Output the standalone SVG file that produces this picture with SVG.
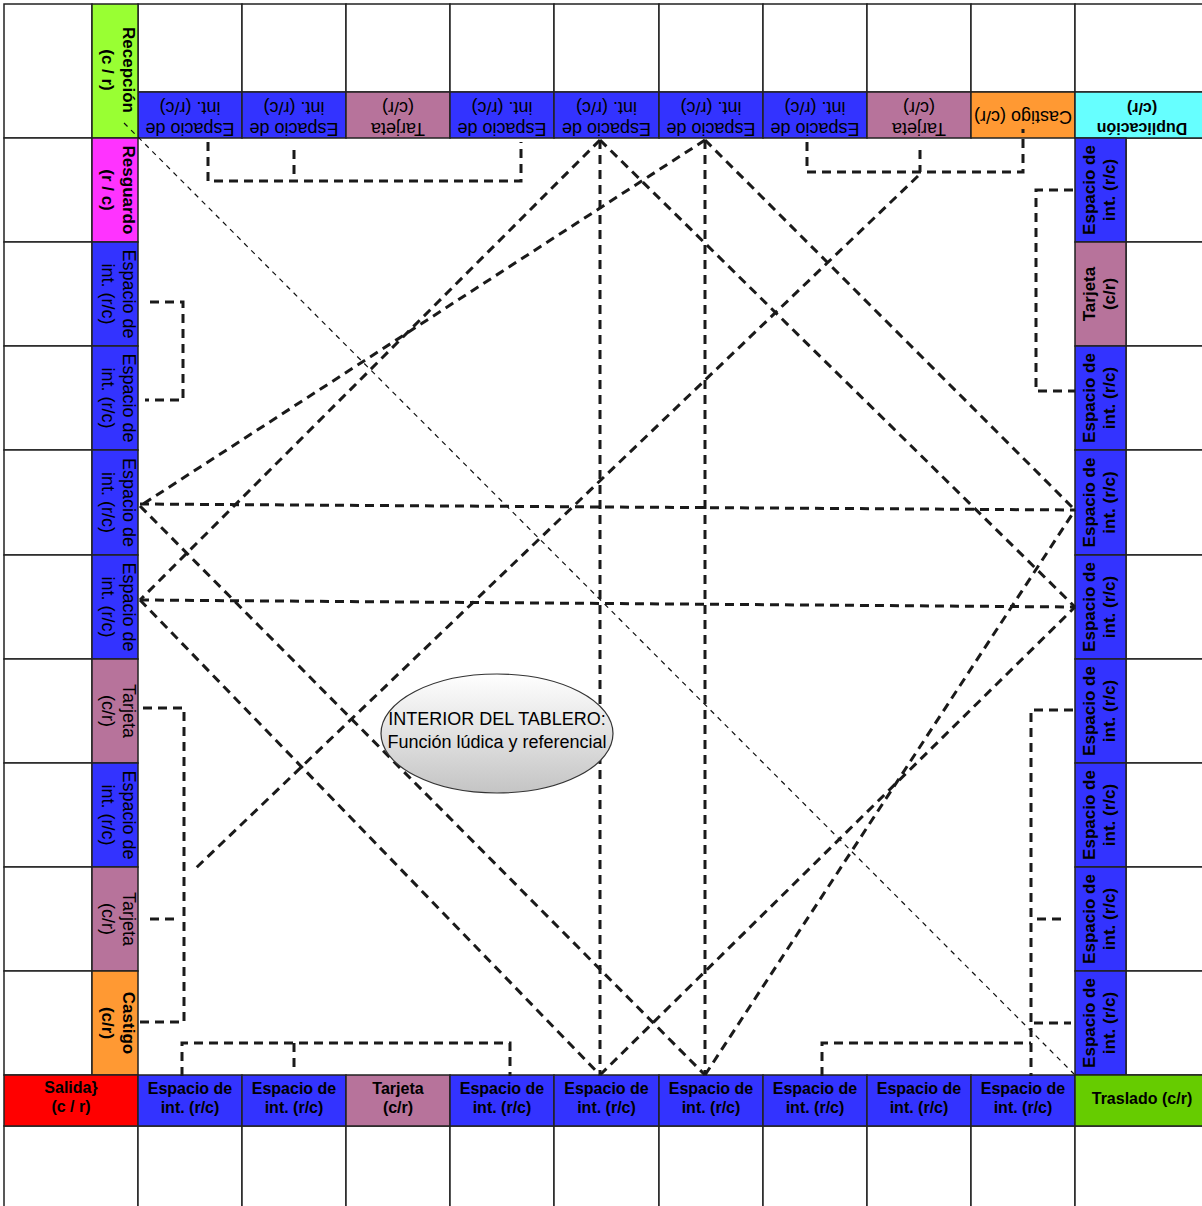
<svg xmlns="http://www.w3.org/2000/svg" width="1202" height="1206" viewBox="0 0 1202 1206">
<defs>
<linearGradient id="eg" x1="0" y1="0" x2="0" y2="1">
<stop offset="0" stop-color="#ffffff"/>
<stop offset="1" stop-color="#c4c4c4"/>
</linearGradient>
<style>
.c{stroke:#222;stroke-width:1.5}
.w{fill:#fff}
.bl{fill:#3333ff}
.tj{fill:#b7739b}
.or{fill:#ff9933}
.cy{fill:#66ffff}
.rc{fill:#99ff33}
.mg{fill:#ff33ff}
.rd{fill:#ff0000}
.gr{fill:#66cc00}
text{font-family:"Liberation Sans",Arial,Helvetica,sans-serif;fill:#000;text-anchor:middle}
.r18{font-size:18px}
.b17{font-size:17px;font-weight:bold}
.b16{font-size:16px;font-weight:bold}
.d{fill:none;stroke:#1a1a1a;stroke-width:3;stroke-dasharray:9 6}
.th{fill:none;stroke:#111;stroke-width:1.2;stroke-dasharray:5 5}
</style>
</defs>
<rect width="1202" height="1206" fill="#fff"/>

<g id="grid-white">
<rect class="c w" x="4" y="4" width="88" height="134"/>
<rect class="c w" x="138" y="4" width="104" height="88"/>
<rect class="c w" x="242" y="4" width="104" height="88"/>
<rect class="c w" x="346" y="4" width="104" height="88"/>
<rect class="c w" x="450" y="4" width="104" height="88"/>
<rect class="c w" x="554" y="4" width="105" height="88"/>
<rect class="c w" x="659" y="4" width="104" height="88"/>
<rect class="c w" x="763" y="4" width="104" height="88"/>
<rect class="c w" x="867" y="4" width="104" height="88"/>
<rect class="c w" x="971" y="4" width="104" height="88"/>
<rect class="c w" x="1075" y="4" width="140" height="88"/>
<rect class="c w" x="4" y="138" width="88" height="104"/>
<rect class="c w" x="4" y="242" width="88" height="104"/>
<rect class="c w" x="4" y="346" width="88" height="104"/>
<rect class="c w" x="4" y="450" width="88" height="105"/>
<rect class="c w" x="4" y="555" width="88" height="104"/>
<rect class="c w" x="4" y="659" width="88" height="104"/>
<rect class="c w" x="4" y="763" width="88" height="104"/>
<rect class="c w" x="4" y="867" width="88" height="104"/>
<rect class="c w" x="4" y="971" width="88" height="104"/>
<rect class="c w" x="1126" y="138" width="90" height="104"/>
<rect class="c w" x="1126" y="242" width="90" height="104"/>
<rect class="c w" x="1126" y="346" width="90" height="104"/>
<rect class="c w" x="1126" y="450" width="90" height="105"/>
<rect class="c w" x="1126" y="555" width="90" height="104"/>
<rect class="c w" x="1126" y="659" width="90" height="104"/>
<rect class="c w" x="1126" y="763" width="90" height="104"/>
<rect class="c w" x="1126" y="867" width="90" height="104"/>
<rect class="c w" x="1126" y="971" width="90" height="104"/>
<rect class="c w" x="4" y="1126" width="134" height="90"/>
<rect class="c w" x="138" y="1126" width="104" height="90"/>
<rect class="c w" x="242" y="1126" width="104" height="90"/>
<rect class="c w" x="346" y="1126" width="104" height="90"/>
<rect class="c w" x="450" y="1126" width="104" height="90"/>
<rect class="c w" x="554" y="1126" width="105" height="90"/>
<rect class="c w" x="659" y="1126" width="104" height="90"/>
<rect class="c w" x="763" y="1126" width="104" height="90"/>
<rect class="c w" x="867" y="1126" width="104" height="90"/>
<rect class="c w" x="971" y="1126" width="104" height="90"/>
<rect class="c w" x="1075" y="1126" width="140" height="90"/>
</g>

<!-- Top row (upside down) -->
<g id="top-1"><rect class="c bl" x="138" y="92" width="104" height="46"/><text class="r18" transform="rotate(180 190 115)"><tspan x="190" y="107">Espacio de</tspan><tspan x="190" y="128">int. (r/c)</tspan></text></g>
<g id="top-2"><rect class="c bl" x="242" y="92" width="104" height="46"/><text class="r18" transform="rotate(180 294 115)"><tspan x="294" y="107">Espacio de</tspan><tspan x="294" y="128">int. (r/c)</tspan></text></g>
<g id="top-3"><rect class="c tj" x="346" y="92" width="104" height="46"/><text class="r18" transform="rotate(180 398 115)"><tspan x="398" y="107">Tarjeta</tspan><tspan x="398" y="128">(c/r)</tspan></text></g>
<g id="top-4"><rect class="c bl" x="450" y="92" width="104" height="46"/><text class="r18" transform="rotate(180 502 115)"><tspan x="502" y="107">Espacio de</tspan><tspan x="502" y="128">int. (r/c)</tspan></text></g>
<g id="top-5"><rect class="c bl" x="554" y="92" width="105" height="46"/><text class="r18" transform="rotate(180 606.5 115)"><tspan x="606.5" y="107">Espacio de</tspan><tspan x="606.5" y="128">int. (r/c)</tspan></text></g>
<g id="top-6"><rect class="c bl" x="659" y="92" width="104" height="46"/><text class="r18" transform="rotate(180 711 115)"><tspan x="711" y="107">Espacio de</tspan><tspan x="711" y="128">int. (r/c)</tspan></text></g>
<g id="top-7"><rect class="c bl" x="763" y="92" width="104" height="46"/><text class="r18" transform="rotate(180 815 115)"><tspan x="815" y="107">Espacio de</tspan><tspan x="815" y="128">int. (r/c)</tspan></text></g>
<g id="top-8"><rect class="c tj" x="867" y="92" width="104" height="46"/><text class="r18" transform="rotate(180 919 115)"><tspan x="919" y="107">Tarjeta</tspan><tspan x="919" y="128">(c/r)</tspan></text></g>
<g id="top-9"><rect class="c or" x="971" y="92" width="104" height="46"/><text class="r18" transform="rotate(180 1023 115)"><tspan x="1023" y="119">Castigo (c/r)</tspan></text></g>
<g id="duplicacion"><rect class="c cy" x="1075" y="92" width="140" height="46"/><text class="b16" transform="rotate(180 1142 115)"><tspan x="1142" y="107">Duplicación</tspan><tspan x="1142" y="127">(c/r)</tspan></text></g>

<!-- Left column (rotated 90) -->
<g id="recepcion"><rect class="c rc" x="92" y="4" width="46" height="134"/><text class="b17" transform="rotate(90 115 70)"><tspan x="115" y="62">Recepción</tspan><tspan x="115" y="83">(c / r)</tspan></text></g>
<g id="resguardo"><rect class="c mg" x="92" y="138" width="46" height="104"/><text class="b17" transform="rotate(90 115 190)"><tspan x="115" y="182">Resguardo</tspan><tspan x="115" y="203">(r / c)</tspan></text></g>
<g id="left-3"><rect class="c bl" x="92" y="242" width="46" height="104"/><text class="r18" transform="rotate(90 115 294)"><tspan x="115" y="286">Espacio de</tspan><tspan x="115" y="307">int. (r/c)</tspan></text></g>
<g id="left-4"><rect class="c bl" x="92" y="346" width="46" height="104"/><text class="r18" transform="rotate(90 115 398)"><tspan x="115" y="390">Espacio de</tspan><tspan x="115" y="411">int. (r/c)</tspan></text></g>
<g id="left-5"><rect class="c bl" x="92" y="450" width="46" height="105"/><text class="r18" transform="rotate(90 115 502.5)"><tspan x="115" y="494.5">Espacio de</tspan><tspan x="115" y="515.5">int. (r/c)</tspan></text></g>
<g id="left-6"><rect class="c bl" x="92" y="555" width="46" height="104"/><text class="r18" transform="rotate(90 115 607)"><tspan x="115" y="599">Espacio de</tspan><tspan x="115" y="620">int. (r/c)</tspan></text></g>
<g id="left-7"><rect class="c tj" x="92" y="659" width="46" height="104"/><text class="r18" transform="rotate(90 115 711)"><tspan x="115" y="703">Tarjeta</tspan><tspan x="115" y="724">(c/r)</tspan></text></g>
<g id="left-8"><rect class="c bl" x="92" y="763" width="46" height="104"/><text class="r18" transform="rotate(90 115 815)"><tspan x="115" y="807">Espacio de</tspan><tspan x="115" y="828">int. (r/c)</tspan></text></g>
<g id="left-9"><rect class="c tj" x="92" y="867" width="46" height="104"/><text class="r18" transform="rotate(90 115 919)"><tspan x="115" y="911">Tarjeta</tspan><tspan x="115" y="932">(c/r)</tspan></text></g>
<g id="left-10"><rect class="c or" x="92" y="971" width="46" height="104"/><text class="b17" transform="rotate(90 115 1023)"><tspan x="115" y="1015">Castigo</tspan><tspan x="115" y="1036">(c/r)</tspan></text></g>

<!-- Right column (rotated -90) -->
<g id="right-1"><rect class="c bl" x="1075" y="138" width="51" height="104"/><text class="b17" transform="rotate(-90 1100.5 190)"><tspan x="1100.5" y="184">Espacio de</tspan><tspan x="1100.5" y="204">int. (r/c)</tspan></text></g>
<g id="right-2"><rect class="c tj" x="1075" y="242" width="51" height="104"/><text class="b17" transform="rotate(-90 1100.5 294)"><tspan x="1100.5" y="288">Tarjeta</tspan><tspan x="1100.5" y="308">(c/r)</tspan></text></g>
<g id="right-3"><rect class="c bl" x="1075" y="346" width="51" height="104"/><text class="b17" transform="rotate(-90 1100.5 398)"><tspan x="1100.5" y="392">Espacio de</tspan><tspan x="1100.5" y="412">int. (r/c)</tspan></text></g>
<g id="right-4"><rect class="c bl" x="1075" y="450" width="51" height="105"/><text class="b17" transform="rotate(-90 1100.5 502.5)"><tspan x="1100.5" y="496.5">Espacio de</tspan><tspan x="1100.5" y="516.5">int. (r/c)</tspan></text></g>
<g id="right-5"><rect class="c bl" x="1075" y="555" width="51" height="104"/><text class="b17" transform="rotate(-90 1100.5 607)"><tspan x="1100.5" y="601">Espacio de</tspan><tspan x="1100.5" y="621">int. (r/c)</tspan></text></g>
<g id="right-6"><rect class="c bl" x="1075" y="659" width="51" height="104"/><text class="b17" transform="rotate(-90 1100.5 711)"><tspan x="1100.5" y="705">Espacio de</tspan><tspan x="1100.5" y="725">int. (r/c)</tspan></text></g>
<g id="right-7"><rect class="c bl" x="1075" y="763" width="51" height="104"/><text class="b17" transform="rotate(-90 1100.5 815)"><tspan x="1100.5" y="809">Espacio de</tspan><tspan x="1100.5" y="829">int. (r/c)</tspan></text></g>
<g id="right-8"><rect class="c bl" x="1075" y="867" width="51" height="104"/><text class="b17" transform="rotate(-90 1100.5 919)"><tspan x="1100.5" y="913">Espacio de</tspan><tspan x="1100.5" y="933">int. (r/c)</tspan></text></g>
<g id="right-9"><rect class="c bl" x="1075" y="971" width="51" height="104"/><text class="b17" transform="rotate(-90 1100.5 1023)"><tspan x="1100.5" y="1017">Espacio de</tspan><tspan x="1100.5" y="1037">int. (r/c)</tspan></text></g>

<!-- Bottom row -->
<g id="salida"><rect class="c rd" x="4" y="1075" width="134" height="51"/><text class="b16"><tspan x="71" y="1093">Salida}</tspan><tspan x="71" y="1112">(c / r)</tspan></text></g>
<g id="bot-1"><rect class="c bl" x="138" y="1075" width="104" height="51"/><text class="b16"><tspan x="190" y="1094">Espacio de</tspan><tspan x="190" y="1113">int. (r/c)</tspan></text></g>
<g id="bot-2"><rect class="c bl" x="242" y="1075" width="104" height="51"/><text class="b16"><tspan x="294" y="1094">Espacio de</tspan><tspan x="294" y="1113">int. (r/c)</tspan></text></g>
<g id="bot-3"><rect class="c tj" x="346" y="1075" width="104" height="51"/><text class="b16"><tspan x="398" y="1094">Tarjeta</tspan><tspan x="398" y="1113">(c/r)</tspan></text></g>
<g id="bot-4"><rect class="c bl" x="450" y="1075" width="104" height="51"/><text class="b16"><tspan x="502" y="1094">Espacio de</tspan><tspan x="502" y="1113">int. (r/c)</tspan></text></g>
<g id="bot-5"><rect class="c bl" x="554" y="1075" width="105" height="51"/><text class="b16"><tspan x="606.5" y="1094">Espacio de</tspan><tspan x="606.5" y="1113">int. (r/c)</tspan></text></g>
<g id="bot-6"><rect class="c bl" x="659" y="1075" width="104" height="51"/><text class="b16"><tspan x="711" y="1094">Espacio de</tspan><tspan x="711" y="1113">int. (r/c)</tspan></text></g>
<g id="bot-7"><rect class="c bl" x="763" y="1075" width="104" height="51"/><text class="b16"><tspan x="815" y="1094">Espacio de</tspan><tspan x="815" y="1113">int. (r/c)</tspan></text></g>
<g id="bot-8"><rect class="c bl" x="867" y="1075" width="104" height="51"/><text class="b16"><tspan x="919" y="1094">Espacio de</tspan><tspan x="919" y="1113">int. (r/c)</tspan></text></g>
<g id="bot-9"><rect class="c bl" x="971" y="1075" width="104" height="51"/><text class="b16"><tspan x="1023" y="1094">Espacio de</tspan><tspan x="1023" y="1113">int. (r/c)</tspan></text></g>
<g id="traslado"><rect class="c gr" x="1075" y="1075" width="140" height="51"/><text class="b16" x="1142" y="1104">Traslado (c/r)</text></g>

<!-- Connectors -->
<g id="connectors">
<line class="th" x1="124" y1="123" x2="1074" y2="1074"/>
<polyline class="d" points="208,142 208,181 521,181 521,142"/>
<line class="d" x1="294" y1="150" x2="294" y2="181"/>
<polyline class="d" points="807,142 807,172 1023,172 1023,129"/>
<line class="d" x1="920" y1="150" x2="920" y2="172"/>
<polyline class="d" points="1073,190 1036,190 1036,391 1075,391"/>
<polyline class="d" points="150,302 183,302 183,400 145,400"/>
<polyline class="d" points="143,708 184,708 184,1022 139,1022"/>
<line class="d" x1="150" y1="919" x2="180" y2="919"/>
<polyline class="d" points="182,1076 182,1043 510,1043 510,1076"/>
<line class="d" x1="294" y1="1043" x2="294" y2="1073"/>
<polyline class="d" points="822,1076 822,1043 1031,1043"/>
<polyline class="d" points="1073,710 1031,710 1031,1076"/>
<line class="d" x1="1037" y1="919" x2="1064" y2="919"/>
<line class="d" x1="1034" y1="1023" x2="1071" y2="1023"/>
<line class="d" x1="600" y1="140" x2="600" y2="1075"/>
<line class="d" x1="705" y1="140" x2="705" y2="1075"/>
<line class="d" x1="140" y1="504" x2="1075" y2="510"/>
<line class="d" x1="140" y1="600" x2="1075" y2="607"/>
<line class="d" x1="600" y1="140" x2="140" y2="600"/>
<line class="d" x1="705" y1="140" x2="140" y2="506"/>
<line class="d" x1="600" y1="140" x2="1075" y2="607"/>
<line class="d" x1="705" y1="140" x2="1075" y2="510"/>
<line class="d" x1="140" y1="506" x2="705" y2="1075"/>
<line class="d" x1="140" y1="600" x2="600" y2="1075"/>
<line class="d" x1="600" y1="1075" x2="1075" y2="607"/>
<line class="d" x1="705" y1="1075" x2="1075" y2="510"/>
<line class="d" x1="918" y1="176" x2="196" y2="868"/>
</g>

<g id="interior">
<ellipse cx="497" cy="733.5" rx="116" ry="59.5" fill="url(#eg)" stroke="#333" stroke-width="1.2"/>
<text class="r18"><tspan x="497" y="725">INTERIOR DEL TABLERO:</tspan><tspan x="497" y="748">Función lúdica y referencial</tspan></text>
</g>
</svg>
